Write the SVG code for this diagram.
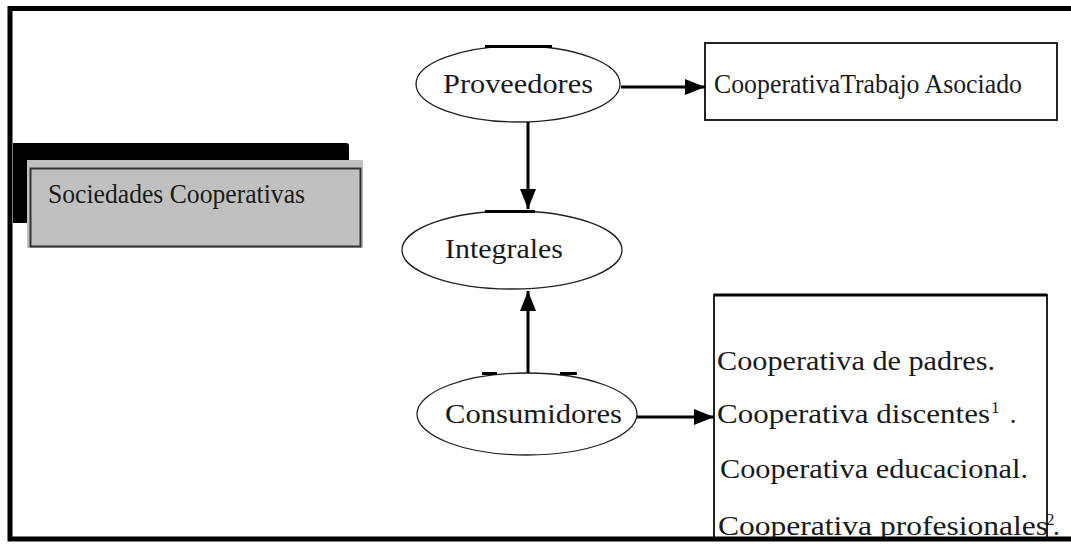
<svg xmlns="http://www.w3.org/2000/svg" width="1071" height="544" viewBox="0 0 1071 544">
<style>
  .t { font-family: "Liberation Serif", "Times New Roman", serif; font-size: 27px; fill: #1a1a1a; }
  .sup { font-size: 17px; }
  .ell { fill: #fff; stroke: #222; stroke-width: 1.3; }
  .bar { stroke: #000; stroke-width: 3; }
  .box { fill: #fff; stroke: #222; stroke-width: 2; }
  .conn { stroke: #000; stroke-width: 3; fill: none; }
</style>
<defs>
  <marker id="ah" markerUnits="userSpaceOnUse" markerWidth="22" markerHeight="18" refX="20" refY="9" orient="auto">
    <path d="M0,1 L20,9 L0,17 Z" fill="#000"/>
  </marker>
</defs>
<rect x="0" y="0" width="1071" height="544" fill="#fff"/>

<g id="sociedades">
  <path d="M13,143 H346 Q349,143 349,146 V223 H13 Z" fill="#000"/>
  <rect x="27" y="160" width="336" height="88" fill="#c0c0c0"/>
  <rect x="30.5" y="168.5" width="330" height="78" fill="none" stroke="#333" stroke-width="2"/>
  <text class="t" x="48" y="203" font-size="25" textLength="257" lengthAdjust="spacingAndGlyphs">Sociedades Cooperativas</text>
</g>

<g id="proveedores">
  <ellipse class="ell" cx="518" cy="84" rx="102" ry="38"/>
  <line class="bar" x1="485" y1="46.5" x2="552" y2="46.5"/>
  <text class="t" x="443" y="93" textLength="150" lengthAdjust="spacingAndGlyphs">Proveedores</text>
</g>

<g id="trabajo">
  <rect class="box" x="705" y="43" width="352" height="77"/>
  <text class="t" x="714" y="93" font-size="25" textLength="308" lengthAdjust="spacingAndGlyphs">CooperativaTrabajo Asociado</text>
</g>

<g id="integrales">
  <ellipse class="ell" cx="512" cy="250" rx="110" ry="39"/>
  <line class="bar" x1="485" y1="211.5" x2="535" y2="211.5"/>
  <text class="t" x="445" y="258" textLength="118" lengthAdjust="spacingAndGlyphs">Integrales</text>
</g>

<g id="consumidores">
  <ellipse class="ell" cx="527" cy="414" rx="110" ry="41"/>
  <line class="bar" x1="482" y1="373.5" x2="497" y2="373.5"/>
  <line class="bar" x1="560" y1="373.5" x2="577" y2="373.5"/>
  <text class="t" x="445" y="423" textLength="177" lengthAdjust="spacingAndGlyphs">Consumidores</text>
</g>

<g id="tipos">
  <path d="M714,539 V295 H1047 V539" fill="#fff" stroke="#222" stroke-width="2"/>
  <line x1="714" y1="295" x2="1047" y2="295" stroke="#000" stroke-width="3"/>
  <text class="t" x="717" y="370" textLength="278" lengthAdjust="spacingAndGlyphs">Cooperativa de padres.</text>
  <text class="t" x="717" y="423"><tspan textLength="273" lengthAdjust="spacingAndGlyphs">Cooperativa discentes</tspan><tspan class="sup" x="991" y="413">1</tspan><tspan x="1003" y="423"> .</tspan></text>
  <text class="t" x="720" y="478" textLength="308" lengthAdjust="spacingAndGlyphs">Cooperativa educacional.</text>
  <text class="t" x="718" y="535"><tspan textLength="330" lengthAdjust="spacingAndGlyphs">Cooperativa profesionales</tspan><tspan class="sup" x="1046" y="525">2</tspan><tspan x="1053" y="535">.</tspan></text>
</g>

<g id="connectors">
  <line class="conn" x1="621" y1="87" x2="705" y2="87" marker-end="url(#ah)"/>
  <line class="conn" x1="528" y1="122" x2="528" y2="209" marker-end="url(#ah)"/>
  <line class="conn" x1="528" y1="373" x2="528" y2="291" marker-end="url(#ah)"/>
  <line class="conn" x1="637" y1="417" x2="714" y2="417" marker-end="url(#ah)"/>
</g>

<!-- outer frame -->
<rect x="10" y="8.5" width="1100" height="530.5" fill="none" stroke="#000" stroke-width="5"/>
</svg>
